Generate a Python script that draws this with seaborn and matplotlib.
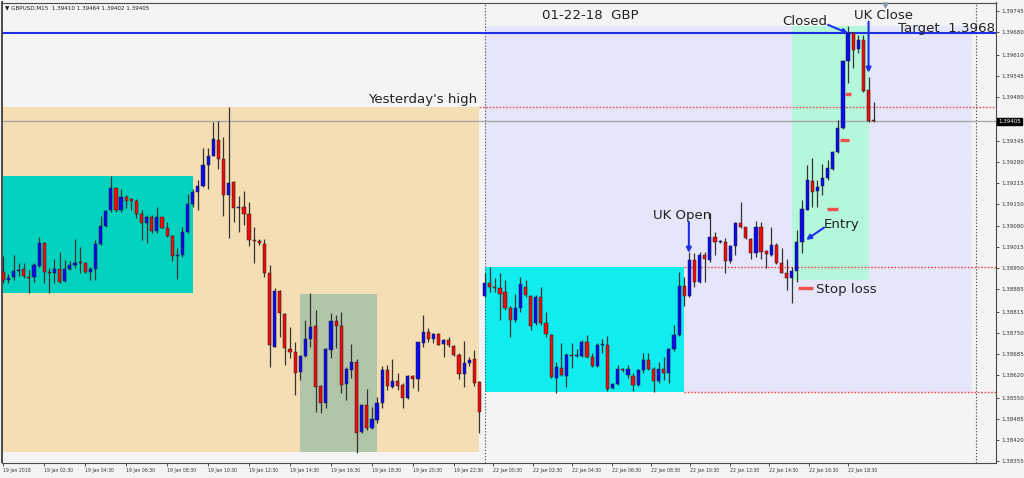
import matplotlib
matplotlib.use("Agg")
import matplotlib.pyplot as plt
import seaborn as sns
import numpy as np
from matplotlib.patches import Rectangle

sns.set_theme(style="white")
plt.rcParams['font.family'] = ['DejaVu Sans']

# ---------------- data (GBPUSD M15, 19 Jan 2018 and 22 Jan 2018) ----------------
opens = [1.38940, 1.38915, 1.38923, 1.38943, 1.38947, 1.38923, 1.38922, 1.38958, 1.39029, 1.38939,
         1.38934, 1.38947, 1.38911, 1.38949, 1.38960, 1.38970, 1.38965, 1.38940, 1.38948, 1.39024,
         1.39082, 1.39130, 1.39197, 1.39130, 1.39170, 1.39163, 1.39158, 1.39117, 1.39089, 1.39110,
         1.39065, 1.39108, 1.39074, 1.39050, 1.38990, 1.38990, 1.39061, 1.39149, 1.39187, 1.39205,
         1.39269, 1.39298, 1.39347, 1.39287, 1.39176, 1.39217, 1.39136, 1.39139, 1.39117, 1.39038,
         1.39034, 1.39025, 1.38935, 1.38708, 1.38880, 1.38808, 1.38700, 1.38690, 1.38630, 1.38679,
         1.38730, 1.38772, 1.38586, 1.38534, 1.38697, 1.38788, 1.38772, 1.38591, 1.38636, 1.38659,
         1.38445, 1.38527, 1.38455, 1.38481, 1.38532, 1.38636, 1.38584, 1.38603, 1.38589, 1.38548,
         1.38617, 1.38607, 1.38720, 1.38754, 1.38732, 1.38747, 1.38715, 1.38728, 1.38710, 1.38682,
         1.38622, 1.38656, 1.38669, 1.38597,
         1.38864, 1.38904, 1.38892, 1.38888, 1.38878, 1.38828, 1.38790, 1.38828, 1.38893, 1.38864,
         1.38780, 1.38860, 1.38780, 1.38744, 1.38610, 1.38643, 1.38617, 1.38680, 1.38679, 1.38679,
         1.38723, 1.38677, 1.38649, 1.38713, 1.38714, 1.38579, 1.38591, 1.38639, 1.38620, 1.38618,
         1.38589, 1.38636, 1.38666, 1.38639, 1.38601, 1.38639, 1.38627, 1.38699, 1.38744, 1.38895,
         1.38864, 1.38975, 1.38909, 1.38990, 1.38975, 1.39046, 1.39031, 1.39032, 1.38974, 1.39019,
         1.39089, 1.39077, 1.39041, 1.38996, 1.39079, 1.39004, 1.38991, 1.39022, 1.38965, 1.38937,
         1.38919, 1.38943, 1.39032, 1.39130, 1.39220, 1.39190, 1.39205, 1.39228, 1.39257, 1.39311,
         1.39385, 1.39591, 1.39679, 1.39627, 1.39656, 1.39502, 1.39410]
highs = [1.38988, 1.38932, 1.38991, 1.38965, 1.38965, 1.38945, 1.38965, 1.39048, 1.39032, 1.38950,
         1.38980, 1.38999, 1.38975, 1.38972, 1.39040, 1.39017, 1.38970, 1.38955, 1.39038, 1.39112,
         1.39130, 1.39236, 1.39201, 1.39194, 1.39177, 1.39169, 1.39164, 1.39130, 1.39115, 1.39115,
         1.39139, 1.39110, 1.39094, 1.39053, 1.39012, 1.39079, 1.39179, 1.39194, 1.39223, 1.39321,
         1.39323, 1.39404, 1.39407, 1.39355, 1.39448, 1.39220, 1.39175, 1.39190, 1.39154, 1.39079,
         1.39040, 1.39040, 1.38960, 1.38888, 1.38883, 1.38811, 1.38770, 1.38723, 1.38682, 1.38790,
         1.38873, 1.38821, 1.38589, 1.38703, 1.38813, 1.38806, 1.38816, 1.38646, 1.38716, 1.38669,
         1.38530, 1.38576, 1.38522, 1.38551, 1.38649, 1.38651, 1.38670, 1.38627, 1.38594, 1.38620,
         1.38620, 1.38723, 1.38806, 1.38764, 1.38749, 1.38751, 1.38730, 1.38739, 1.38713, 1.38687,
         1.38726, 1.38677, 1.38697, 1.38603,
         1.38935, 1.38953, 1.38919, 1.38935, 1.38914, 1.38833, 1.38870, 1.38924, 1.38914, 1.38867,
         1.38867, 1.38893, 1.38816, 1.38747, 1.38661, 1.38718, 1.38687, 1.38720, 1.38699, 1.38728,
         1.38744, 1.38687, 1.38718, 1.38730, 1.38741, 1.38594, 1.38651, 1.38643, 1.38651, 1.38627,
         1.38639, 1.38687, 1.38687, 1.38646, 1.38661, 1.38677, 1.38703, 1.38775, 1.38940, 1.38924,
         1.39002, 1.38996, 1.39002, 1.39002, 1.39120, 1.39063, 1.39038, 1.39043, 1.39022, 1.39094,
         1.39156, 1.39079, 1.39043, 1.39097, 1.39094, 1.39007, 1.39079, 1.39027, 1.39012, 1.38978,
         1.38953, 1.39069, 1.39161, 1.39270, 1.39290, 1.39223, 1.39273, 1.39285, 1.39314, 1.39409,
         1.39594, 1.39700, 1.39682, 1.39672, 1.39672, 1.39543, 1.39464]
lows = [1.38906, 1.38906, 1.38914, 1.38926, 1.38919, 1.38875, 1.38909, 1.38955, 1.38906, 1.38875,
        1.38906, 1.38904, 1.38909, 1.38945, 1.38950, 1.38937, 1.38935, 1.38914, 1.38914, 1.39022,
        1.39079, 1.39125, 1.39125, 1.39125, 1.39136, 1.39130, 1.39105, 1.39038, 1.39029, 1.39060,
        1.39060, 1.39074, 1.39046, 1.38974, 1.38916, 1.38986, 1.39058, 1.39141, 1.39130, 1.39201,
        1.39194, 1.39297, 1.39256, 1.39112, 1.39043, 1.39094, 1.39063, 1.39084, 1.39019, 1.38965,
        1.39022, 1.38922, 1.38646, 1.38706, 1.38739, 1.38651, 1.38672, 1.38558, 1.38605, 1.38677,
        1.38708, 1.38507, 1.38501, 1.38517, 1.38672, 1.38703, 1.38563, 1.38543, 1.38610, 1.38380,
        1.38442, 1.38450, 1.38452, 1.38471, 1.38519, 1.38574, 1.38579, 1.38574, 1.38519, 1.38545,
        1.38579, 1.38572, 1.38706, 1.38723, 1.38718, 1.38713, 1.38677, 1.38706, 1.38679, 1.38607,
        1.38584, 1.38649, 1.38586, 1.38440,
        1.38860, 1.38878, 1.38878, 1.38790, 1.38821, 1.38739, 1.38785, 1.38816, 1.38862, 1.38759,
        1.38775, 1.38775, 1.38739, 1.38610, 1.38563, 1.38617, 1.38584, 1.38641, 1.38677, 1.38677,
        1.38672, 1.38644, 1.38646, 1.38687, 1.38572, 1.38576, 1.38589, 1.38630, 1.38610, 1.38572,
        1.38586, 1.38625, 1.38636, 1.38569, 1.38596, 1.38605, 1.38594, 1.38695, 1.38741, 1.38833,
        1.38860, 1.38893, 1.38904, 1.38909, 1.38970, 1.38991, 1.39029, 1.38935, 1.38967, 1.38991,
        1.39074, 1.39040, 1.38980, 1.38984, 1.38980, 1.38950, 1.38988, 1.38963, 1.38935, 1.38883,
        1.38844, 1.38909, 1.38996, 1.39130, 1.39141, 1.39141, 1.39177, 1.39223, 1.39254, 1.39306,
        1.39381, 1.39522, 1.39569, 1.39615, 1.39496, 1.39404, 1.39402]
closes = [1.38914, 1.38921, 1.38942, 1.38945, 1.38926, 1.38922, 1.38960, 1.39029, 1.38940, 1.38937,
          1.38948, 1.38909, 1.38948, 1.38960, 1.38968, 1.38967, 1.38938, 1.38948, 1.39024, 1.39082,
          1.39128, 1.39197, 1.39130, 1.39170, 1.39159, 1.39157, 1.39117, 1.39089, 1.39110, 1.39065,
          1.39110, 1.39076, 1.39050, 1.38988, 1.38991, 1.39061, 1.39148, 1.39187, 1.39205, 1.39269,
          1.39298, 1.39349, 1.39287, 1.39178, 1.39214, 1.39136, 1.39138, 1.39117, 1.39038, 1.39036,
          1.39027, 1.38935, 1.38713, 1.38880, 1.38811, 1.38703, 1.38690, 1.38627, 1.38679, 1.38731,
          1.38767, 1.38584, 1.38534, 1.38700, 1.38788, 1.38772, 1.38589, 1.38639, 1.38659, 1.38442,
          1.38527, 1.38455, 1.38483, 1.38532, 1.38636, 1.38586, 1.38603, 1.38586, 1.38548, 1.38617,
          1.38607, 1.38721, 1.38754, 1.38730, 1.38747, 1.38713, 1.38728, 1.38712, 1.38682, 1.38622,
          1.38656, 1.38666, 1.38596, 1.38507,
          1.38904, 1.38893, 1.38890, 1.38870, 1.38828, 1.38790, 1.38828, 1.38900, 1.38867, 1.38772,
          1.38860, 1.38780, 1.38747, 1.38613, 1.38644, 1.38620, 1.38682, 1.38679, 1.38680, 1.38723,
          1.38677, 1.38649, 1.38713, 1.38715, 1.38576, 1.38591, 1.38638, 1.38637, 1.38638, 1.38589,
          1.38636, 1.38666, 1.38639, 1.38601, 1.38639, 1.38627, 1.38699, 1.38744, 1.38895, 1.38864,
          1.38975, 1.38909, 1.38990, 1.38979, 1.39046, 1.39032, 1.39033, 1.38974, 1.39019, 1.39089,
          1.39077, 1.39043, 1.38996, 1.39079, 1.39002, 1.38993, 1.39022, 1.38965, 1.38937, 1.38919,
          1.38943, 1.39032, 1.39132, 1.39223, 1.39187, 1.39203, 1.39228, 1.39261, 1.39311, 1.39385,
          1.39591, 1.39679, 1.39625, 1.39656, 1.39500, 1.39406, 1.39405]

x_tick_labels = ["19 Jan 2018", "19 Jan 02:30", "19 Jan 04:30", "19 Jan 06:30", "19 Jan 08:30",
                 "19 Jan 10:30", "19 Jan 12:30", "19 Jan 14:30", "19 Jan 16:30", "19 Jan 18:30",
                 "19 Jan 20:30", "19 Jan 22:30",
                 "22 Jan 00:30", "22 Jan 02:30", "22 Jan 04:30", "22 Jan 06:30", "22 Jan 08:30",
                 "22 Jan 10:30", "22 Jan 12:30", "22 Jan 14:30", "22 Jan 16:30", "22 Jan 18:30"]
x_tick_pos = [0, 8, 16, 24, 32, 40, 48, 56, 64, 72, 80, 88,
              95.7, 103.4, 111.1, 118.8, 126.5, 134.2, 141.9, 149.6, 157.3, 165.0]
y_tick_vals = [1.38355, 1.38420, 1.38485, 1.38550, 1.38620, 1.38685, 1.38750, 1.38815, 1.38885,
               1.38950, 1.39015, 1.39080, 1.39150, 1.39215, 1.39280, 1.39345, 1.39415, 1.39480,
               1.39545, 1.39610, 1.39680, 1.39745]

# session boxes: (first bar, last bar, low, high, colour)
boxes = [(-0.12, 93.0, 1.38383, 1.39448, '#F5DEB3'),   # yesterday's range
         (-0.12, 37.0, 1.38875, 1.39237, '#02D2BE'),   # Asian session 19 Jan
         (58.0, 73.0, 1.38383, 1.38872, '#B1C6A9'),    # NY low zone
         (94.0, 189.2, 1.38569, 1.39700, '#E6E6FA'),   # 22 Jan range
         (94.0, 133.0, 1.38569, 1.38953, '#11ECEE'),   # Asian session 22 Jan
         (154.0, 169.0, 1.38914, 1.39700, '#B4F7DA')]  # trade zone

yesterday_high = 1.39448
asia_high, asia_low = 1.38953, 1.38569
target = 1.39678
last_price = 1.39405
trade_marks = [(164.3, 165.6, 1.39490), (163.5, 165.2, 1.39347),
               (160.8, 163.1, 1.39132), (155.2, 158.1, 1.38890)]
day_separators = [94, 190]

BG = '#F4F4F4'
BLUE = '#1F2FE8'
TXT = '#222222'

fig = plt.figure(figsize=(10.24, 4.78), dpi=100, facecolor=BG)
ax = fig.add_axes([2 / 1024, 15.5 / 478, 994 / 1024, 460 / 478])
ax.set_facecolor(BG)
ax.set_xlim(-0.254, 193.89)
ax.set_ylim(1.383494, 1.397722)

for x0, x1, lo, hi, col in boxes:
    ax.add_patch(Rectangle((x0, lo), x1 - x0, hi - lo, facecolor=col, edgecolor='none', zorder=0.5))

# level lines
ax.hlines(yesterday_high, 93, 193.89, colors='#F04848', linestyles=(0, (1.2, 1.2)), lw=1.0, zorder=1)
ax.hlines([asia_high, asia_low], 133, 193.89, colors='#F04848', linestyles=(0, (1.2, 1.2)), lw=1.0, zorder=1)
for s in day_separators:
    ax.axvline(s, color='#555555', ls=(0, (1.2, 1.6)), lw=0.8, zorder=1)
ax.axhline(last_price, color='#A8A8A8', lw=1.0, zorder=1.2)
ax.axhline(target, color=BLUE, lw=1.5, zorder=1.3)

# candles
o = np.array(opens); h = np.array(highs); l = np.array(lows); c = np.array(closes)
idx = np.arange(len(o))
up = c >= o
ax.vlines(idx, l, h, color='#333333', lw=0.9, zorder=3)
body_lo = np.minimum(o, c)
body_h = np.abs(c - o)
min_h = 0.000025
small = body_h < min_h
body_lo = np.where(small, (o + c) / 2 - min_h / 2, body_lo)
body_h = np.where(small, min_h, body_h)
cols = np.where(up, '#0A0AF0', '#F00A0A')
ax.bar(idx, body_h, bottom=body_lo, width=0.62, color=cols, edgecolor='#222222', linewidth=0.35, zorder=4)

for x0, x1, y in trade_marks:
    ax.hlines(y, x0, x1, colors='#F05050', lw=2.4, zorder=4.5)

# texts
tk = dict(fontsize=9.6, color=TXT, zorder=6)
ax.text(92.5, 1.39451, "Yesterday's high", ha='right', va='bottom', **tk)
ax.text(105.2, 1.39720, "01-22-18  GBP", ha='left', va='baseline', **tk)
ax.text(152.2, 1.39703, "Closed", ha='left', va='baseline', **tk)
ax.text(166.1, 1.39720, "UK Close", ha='left', va='baseline', **tk)
ax.text(193.7, 1.39681, "Target  1.3968", ha='right', va='baseline', **tk)
ax.text(126.8, 1.39102, "UK Open", ha='left', va='baseline', **tk)
ax.text(160.2, 1.39076, "Entry", ha='left', va='baseline', **tk)
ax.text(158.7, 1.38875, "Stop loss", ha='left', va='baseline', **tk)

arrows = [((133.9, 1.39093), (133.9, 1.38998)),
          ((160.3, 1.39076), (156.8, 1.39038)),
          ((161.1, 1.39703), (165.0, 1.39677)),
          ((169.0, 1.39713), (169.0, 1.39555))]
for tail, head in arrows:
    ax.annotate("", xy=head, xytext=tail,
                arrowprops=dict(arrowstyle='-|>', color=BLUE, lw=1.5, mutation_scale=7,
                                shrinkA=0, shrinkB=0), zorder=6)

# axes styling
ax.grid(False)
for sp in ax.spines.values():
    sp.set_color('#4A4A4A'); sp.set_linewidth(0.8); sp.set_visible(True)
ax.spines['left'].set_linewidth(1.4)
ax.yaxis.tick_right()
ax.set_yticks(y_tick_vals)
# the label hidden behind the current-price box is left blank
ax.set_yticklabels(["" if abs(v - last_price) < 0.0002 else f"{v:.5f}" for v in y_tick_vals])
ax.tick_params(axis='y', right=True, left=False, direction='out', length=2.5, width=0.6, pad=1.2,
               labelsize=4, colors='#333333')
ax.set_xticks(x_tick_pos)
ax.set_xticklabels(x_tick_labels, ha='left')
ax.tick_params(axis='x', bottom=True, direction='out', length=2.5, width=0.6, pad=1.2,
               labelsize=3.3, colors='#333333')

ax.text(1.0025, last_price, f"{last_price:.5f}", transform=ax.get_yaxis_transform(),
        fontsize=4, color='white', va='center', ha='left', zorder=10, clip_on=False,
        bbox=dict(boxstyle='square,pad=0.2', fc='black', ec='black'))
ax.plot([172.2], [0.994], marker='v', color='#8A9AAA', ms=3.5, transform=ax.get_xaxis_transform(),
        clip_on=False, zorder=7)

fig.text(5 / 1024, 1 - 7.3 / 478, "\u25BC GBPUSD.M15  1.39410 1.39464 1.39402 1.39405",
         fontsize=4.1, color='#222222', va='center', ha='left')

fig.savefig("out.png", dpi=100, facecolor=BG)
